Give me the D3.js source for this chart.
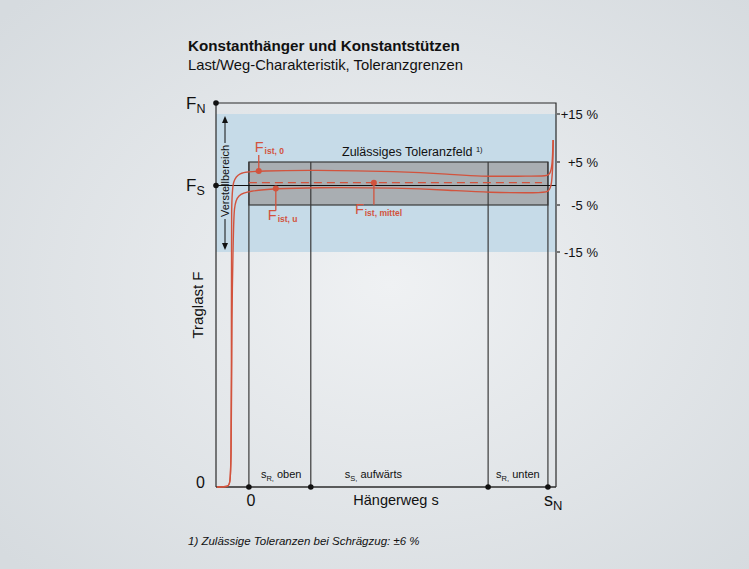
<!DOCTYPE html>
<html><head><meta charset="utf-8">
<script src="https://cdn.jsdelivr.net/npm/d3@7"></script>
<style>body{margin:0;background:#e6e9ec} svg{display:block}</style></head>
<body>
<svg id="c" width="749" height="569"></svg>
<script>
// ---- data (travel s in % of s_N, force in % of F_S; schematic) ----
const forceLevels = [0, 85, 95, 100, 105, 115, 118];      // 0, -15%, -5%, F_S, +5%, +15%, F_N
const tolValues   = [115, 105, 95, 85];
const tolLabels   = ["+15 %", "+5 %", "-5 %", "-15 %"];
const travelMarks = [0, 20.7, 80, 100];                     // 0, end s_R oben, start s_R unten, s_N
const segNames    = ["oben", "aufwärts", "unten"];
const segSubs     = ["R", "S", "R"];
const fN = 118, fS = 100, fMin = 0;
const sMin = -11, sMax = 102.7;
const bandLow = 85, bandHigh = 115, boxLow = 95, boxHigh = 105;
const fIst0 = [[-10.7,0],[-6.7,0],[-5.85,1.8],[-5.85,67.6],[-5.85,96.3],[-5.35,101.2],[-3.0,102.7],
  [0,102.9],[3.3,103.1],[20.7,103.3],[50.5,103.0],[67.2,102.4],[77.3,101.9],[90.6,102.0],[99,102.0],
  [100.7,102.2],[101.5,104.4],[101.7,109.6]];
const fIstU = [[-10.7,0],[-6.7,0],[-5.85,1.8],[-5.7,67.6],[-5.2,87.6],[-5.0,95],[-3.7,97.6],
  [0,98.6],[9,99.2],[20.7,99.5],[50.5,99.4],[67.2,98.8],[80,98.2],[97.3,98.1],[100.3,98.3],
  [101.3,100.1],[101.7,105.4],[101.8,109.6]];
const fIstMittel = 100.6;
const markerPts = [[3.3,103.1],[9,99.2],[41.8,100.6]];
const markerSubs = ["ist, 0", "ist, u", "ist, mittel"];

// ---- layout ----
const svg = d3.select("#c");
const FONT = "'Liberation Sans', Arial, Helvetica, sans-serif";
const RED = "#d2533d", DARK = "#2b2b2b";
const x = d3.scaleLinear().domain([sMin, sMax]).range([216, 556]);
const y = d3.scaleLinear().domain(forceLevels).range([487, 252, 205, 185.5, 162, 114, 103]);

// background
const defs = svg.append("defs");
const rg = defs.append("radialGradient").attr("id","bg").attr("cx","52%").attr("cy","50%").attr("r","70%");
rg.append("stop").attr("offset","0%").attr("stop-color","#eff1f3");
rg.append("stop").attr("offset","100%").attr("stop-color","#d6dbdf");
svg.append("rect").attr("width",749).attr("height",569).attr("fill","url(#bg)");

// titles
svg.append("text").attr("x",188).attr("y",51).attr("font-family",FONT).attr("font-size",15.2)
  .attr("font-weight","bold").attr("fill","#111").text("Konstanthänger und Konstantstützen");
svg.append("text").attr("x",188).attr("y",70).attr("font-family",FONT).attr("font-size",14.8)
  .attr("fill","#111").text("Last/Weg-Charakteristik, Toleranzgrenzen");

// blue tolerance band
svg.append("rect").attr("x",x(sMin)).attr("y",y(bandHigh)).attr("width",x(sMax)-x(sMin))
  .attr("height",y(bandLow)-y(bandHigh)).attr("fill","#c6dbe8");

// gray box
svg.append("rect").attr("x",x(0)).attr("y",y(boxHigh)).attr("width",x(100)-x(0))
  .attr("height",y(boxLow)-y(boxHigh)).attr("fill","#a9aeb2").attr("stroke","#3a3a3a").attr("stroke-width",1.2);

// vertical lines at travel marks
svg.selectAll("line.tm").data(travelMarks).join("line").attr("class","tm")
  .attr("x1",d=>x(d)).attr("x2",d=>x(d)).attr("y1",y(boxHigh)).attr("y2",y(fMin))
  .attr("stroke","#3a3a3a").attr("stroke-width",1.2);

// frame
const frame = d3.path();
frame.moveTo(x(sMin), y(fMin)); frame.lineTo(x(sMin), y(fN)); frame.lineTo(x(sMax), y(fN)); frame.lineTo(x(sMax), y(fMin));
svg.append("path").attr("d",frame.toString()).attr("fill","none").attr("stroke",DARK).attr("stroke-width",1.2);
svg.append("line").attr("x1",x(sMin)).attr("x2",x(sMax)).attr("y1",y(fMin)).attr("y2",y(fMin))
  .attr("stroke",DARK).attr("stroke-width",1.3);

// F_S line
svg.append("line").attr("x1",x(sMin)).attr("x2",x(sMax)).attr("y1",y(fS)).attr("y2",y(fS))
  .attr("stroke","#111").attr("stroke-width",1.2);

// right tolerance ticks
svg.selectAll("line.tt").data(tolValues).join("line").attr("class","tt")
  .attr("x1",x(sMax)+1).attr("x2",x(sMax)+4).attr("y1",d=>y(d)).attr("y2",d=>y(d))
  .attr("stroke",DARK).attr("stroke-width",1.2);
svg.selectAll("text.tl").data(tolValues).join("text").attr("class","tl")
  .attr("x",598).attr("y",d=>y(d)+4.5).attr("text-anchor","end").attr("font-family",FONT)
  .attr("font-size",13).attr("fill","#111").text((d,i)=>tolLabels[i]);

// curves
const line = d3.line().x(d=>x(d[0])).y(d=>y(d[1])).curve(d3.curveBasis);
[fIst0, fIstU].forEach(c=>{
  svg.append("path").attr("d",line(c)).attr("fill","none").attr("stroke",RED).attr("stroke-width",1.4);
});
svg.append("line").attr("x1",x(0)).attr("x2",x(98)).attr("y1",y(fIstMittel)).attr("y2",y(fIstMittel))
  .attr("stroke",RED).attr("stroke-width",1.3).attr("stroke-dasharray","8,5");

// markers + labels
const offs = [[-16, [-4,-19]], [22, [-8,31]], [22, [-19,31]]]; // line end dy, label offset
markerPts.forEach((p,i)=>{
  const cx = x(p[0]), cy = y(p[1]);
  svg.append("line").attr("x1",cx).attr("x2",cx).attr("y1",cy).attr("y2",cy+offs[i][0])
    .attr("stroke",RED).attr("stroke-width",1.3);
  svg.append("circle").attr("cx",cx).attr("cy",cy).attr("r",3).attr("fill",RED);
  const t = svg.append("text").attr("x",cx+offs[i][1][0]).attr("y",cy+offs[i][1][1])
    .attr("font-family",FONT).attr("fill",RED);
  t.append("tspan").attr("font-size",14.5).text("F");
  t.append("tspan").attr("font-size",8.5).attr("font-weight","bold").attr("dy",2).attr("dx",1).text(markerSubs[i]);
});

// Zulässiges Toleranzfeld
const zt = svg.append("text").attr("x",342).attr("y",156).attr("font-family",FONT).attr("fill","#111");
zt.append("tspan").attr("font-size",12.5).text("Zulässiges Toleranzfeld ");
zt.append("tspan").attr("font-size",7.5).attr("dy",-4).text("1)");

// black dots
svg.selectAll("circle.bd").data([[sMin,fN],[sMin,fS]].concat(travelMarks.map(t=>[t,fMin])))
  .join("circle").attr("class","bd").attr("cx",d=>x(d[0])).attr("cy",d=>y(d[1])).attr("r",2.8).attr("fill","#111");

// left labels
function subLabel(px, py, main, sub, fs, sfs){
  const t = svg.append("text").attr("x",px).attr("y",py).attr("font-family",FONT).attr("fill","#111");
  t.append("tspan").attr("font-size",fs).text(main);
  t.append("tspan").attr("font-size",sfs).attr("dy",4).text(sub);
  return t;
}
subLabel(186, y(fN)+6, "F", "N", 17, 12.5);
subLabel(186, y(fS)+5, "F", "S", 17, 12.5);
svg.append("text").attr("x",196).attr("y",y(fMin)+1).attr("font-family",FONT).attr("font-size",16).attr("fill","#111").text("0");

// Traglast F
svg.append("text").attr("transform",`translate(${203},${305}) rotate(-90)`).attr("text-anchor","middle")
  .attr("font-family",FONT).attr("font-size",15).attr("fill","#111").text("Traglast F");

// Verstellbereich with arrows
const vx = 225;
svg.append("text").attr("transform",`translate(${vx+3.5},${181}) rotate(-90)`).attr("text-anchor","middle")
  .attr("font-family",FONT).attr("font-size",11).attr("fill","#111").text("Verstellbereich");
svg.append("line").attr("x1",vx).attr("x2",vx).attr("y1",y(bandHigh)+5).attr("y2",143).attr("stroke","#111").attr("stroke-width",1);
svg.append("line").attr("x1",vx).attr("x2",vx).attr("y1",219).attr("y2",y(bandLow)-5).attr("stroke","#111").attr("stroke-width",1);
svg.append("path").attr("d",`M${vx},${y(bandHigh)+2} l-3,7 l6,0 z`).attr("fill","#111");
svg.append("path").attr("d",`M${vx},${y(bandLow)-2} l-3,-7 l6,0 z`).attr("fill","#111");

// segment labels inside, above the axis
const segStarts = [travelMarks[0], travelMarks[1], travelMarks[2]];
const segDx = [12, 34, 8];
segStarts.forEach((s,i)=>{
  const t = svg.append("text").attr("x",x(s)+segDx[i]).attr("y",y(fMin)-9).attr("font-family",FONT).attr("fill","#111");
  t.append("tspan").attr("font-size",11).text("s");
  t.append("tspan").attr("font-size",7.5).attr("dy",3).text(segSubs[i]+",");
  t.append("tspan").attr("font-size",11).attr("dy",-3).text(" " + segNames[i]);
});

// bottom labels
svg.append("text").attr("x",x(0)+2).attr("y",506).attr("text-anchor","middle").attr("font-family",FONT)
  .attr("font-size",16).attr("fill","#111").text("0");
svg.append("text").attr("x",396).attr("y",505).attr("text-anchor","middle").attr("font-family",FONT)
  .attr("font-size",14.5).attr("fill","#111").text("Hängerweg s");
subLabel(544, 506, "s", "N", 18, 13);

// footnote
svg.append("text").attr("x",188).attr("y",545).attr("font-family",FONT).attr("font-size",11.5)
  .attr("font-style","italic").attr("fill","#111").text("1) Zulässige Toleranzen bei Schrägzug: ±6 %");
</script>
</body></html>
